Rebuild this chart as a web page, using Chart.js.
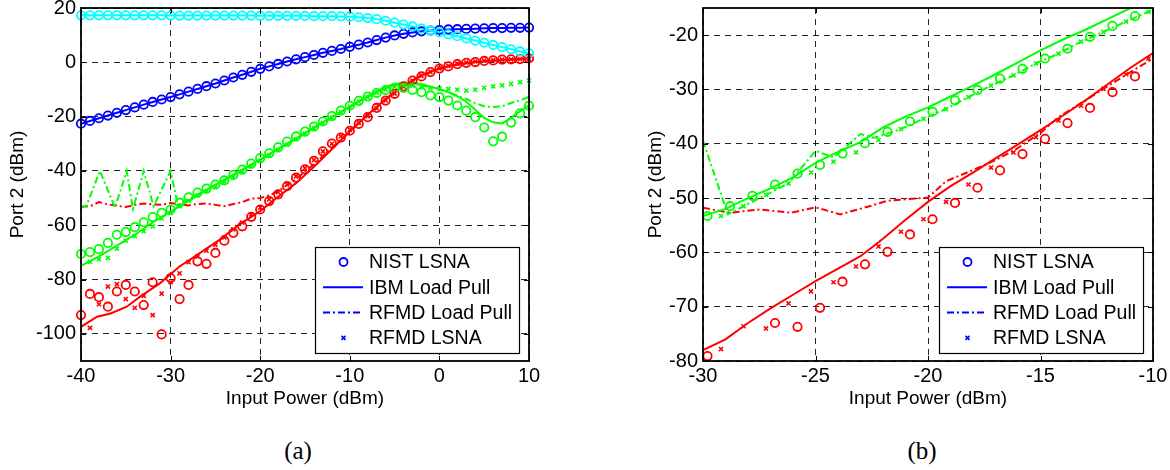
<!DOCTYPE html>
<html>
<head>
<meta charset="utf-8">
<script src="https://cdn.jsdelivr.net/npm/chart.js@4.4.1/dist/chart.umd.min.js"></script>
<style>
body { margin:0; background:#fff; width:1170px; height:470px; position:relative; overflow:hidden; }
#chartA { position:absolute; left:0; top:0; }
#chartB { position:absolute; left:590px; top:0; }
.cap { position:absolute; top:436px; width:60px; text-align:center; line-height:30px;
       font-size:25px; font-family:"Liberation Serif","Times New Roman",serif; color:#000; }
</style>
</head>
<body>
<canvas id="chartA" width="590" height="420"></canvas>
<canvas id="chartB" width="580" height="420"></canvas>
<div class="cap" style="left:268px">(a)</div>
<div class="cap" style="left:892px">(b)</div>
<script>
// ---- (a) data ----
const xTicksA = [-40, -30, -20, -10, 0, 10];
const yTicksA = [-100, -80, -60, -40, -20, 0, 20];
const pinA = [-40,-39,-38,-37,-36,-35,-34,-33,-32,-31,-30,-29,-28,-27,-26,-25,-24,-23,-22,-21,
  -20,-19,-18,-17,-16,-15,-14,-13,-12,-11,-10,-9,-8,-7,-6,-5,-4,-3,-2,-1,0,1,2,3,4,5,6,7,8,9,10];
const cyanA = [17.3,17.3,17.3,17.3,17.3,17.3,17.3,17.3,17.3,17.3,17.2,17.2,17.2,17.2,17.2,17.2,17.2,17.2,17.2,17.2,
  17.1,17.1,17.1,17.1,17.1,17.1,17.0,17.0,17.0,16.9,16.8,16.6,16.3,15.9,15.3,14.6,13.9,13.2,12.4,11.7,
  11.0,10.3,9.6,8.8,8.0,7.2,6.4,5.6,4.8,4.0,3.3];
const blueA = [-22.6,-21.6,-20.6,-19.6,-18.6,-17.6,-16.6,-15.6,-14.6,-13.7,-12.8,-11.8,-10.8,-9.8,-8.8,-7.8,-6.7,-5.6,-4.6,-3.5,
  -2.4,-1.5,-0.6,0.3,1.1,1.9,2.7,3.5,4.2,4.9,5.7,6.5,7.3,8.2,9.1,9.9,10.5,11.0,11.4,11.7,
  11.9,12.1,12.2,12.3,12.4,12.5,12.6,12.6,12.7,12.7,12.8];
const greenA = [-70.6,-69.9,-68.8,-66.5,-63.5,-62.5,-60.7,-58.9,-57,-55.4,-54.2,-51.7,-49.7,-48,-46.5,-45,-43.5,-41.5,-39.5,-37.3,
  -35.3,-33.5,-31.3,-29.2,-27.3,-25.5,-23.7,-21.8,-19.8,-17.8,-16,-14.2,-12.6,-11.3,-10.2,-9.4,-9.4,-10.2,-11,-12.2,
  -12.8,-14.1,-15.9,-17.8,-20.2,-24,-29.1,-27.4,-22.2,-18.8,-16];
const redA = [-93.1,-85.3,-86.5,-90,-84.4,-82,-84.4,-89.4,-81,-100.2,-79.5,-87.2,-82,-73.3,-74.2,-70.2,-65.7,-62.8,-60.4,-56.9,
  -54.2,-51.1,-48.6,-45.6,-42.5,-39.4,-36.3,-32.8,-29.9,-27.7,-25.2,-22.7,-20.2,-16.8,-14.1,-11.6,-8.9,-6.7,-5.2,-3.6,
  -2.3,-1.5,-0.7,-0.2,0.1,0.5,0.7,1.0,1.1,1.2,1.4];
const xsA = [-39,-38,-37,-36,-35,-34,-33,-32,-31,-30,-29,-28,-27,-26,-25,-24,-23,-22,-21,-20,
  -19,-18,-17,-16,-15,-14,-13,-12,-11,-10,-9,-8,-7,-6,-5,-4,-3,-2,-1,0,1,2,3,4,5,6,7,8,9,10];
const greenXA = [-73.5,-72.5,-72,-68.6,-65.7,-64,-62.2,-60.4,-57.5,-55.5,-53,-51,-49,-47.5,-46,-44,-42.3,-40.3,-38.3,-36.3,
  -34.3,-32.3,-30.3,-28.3,-26.3,-24.3,-22.3,-20.3,-18.3,-16.3,-14.5,-12.8,-11.2,-10,-9,-8.5,-8.6,-9,-9.4,-9.6,
  -9.8,-10.1,-10.4,-10.1,-9.4,-8.9,-8.5,-7.9,-7.3,-6.7];
const redXA = [-97.8,-89.1,-82.6,-81.7,-87.2,-90.4,-86,-93.1,-85.2,-81,-77.7,-73.6,-71.5,-69.4,-67.2,-64.5,-61.5,-59,-56,-53.5,
  -50.5,-47.8,-45,-42,-39,-36,-32.8,-30,-27.3,-24.8,-22.3,-19.8,-17,-14,-11.5,-9,-6.8,-5,-3.5,-2.2,
  -1.3,-0.6,-0.1,0.3,0.6,0.8,1,1.1,1.2,1.3];
const greenSolidAx = [-40,-38,-36,-34,-32,-30,-28,-26,-24,-22,-20,-18,-16,-14,-12,-10,-8,-6,-5,-4,-3,-2,-1,0,1,2,3,4,5,6,7,8,9,10];
const greenSolidAy = [-75,-71.5,-67.5,-63.5,-59,-55,-51,-47,-43.3,-39.5,-35.7,-31.8,-28,-24,-20.2,-16.3,-12.5,-9,-8,-7.5,-7.5,-8,-9,-9.8,-11,-12.5,-14.5,-17.5,-20.5,-22.1,-22.5,-20.5,-18,-15.9];
const greenDashAx = [-40,-39.4,-37.9,-36.2,-34.9,-34.2,-33,-31.9,-30,-29.2,-28,-26,-24,-22,-20,-18,-16,-14,-12,-10,-8,-6,-5,-3,-1,0,1,2,3,4,5,6,7,8,9,10];
const greenDashAy = [-53.5,-53,-40,-53.5,-40,-54,-40,-53,-40,-52.5,-50.5,-47,-43.5,-39.8,-36,-32,-28.2,-24.3,-20.4,-16.5,-12.7,-9.5,-8.5,-8.2,-9,-10,-11,-12.3,-13.5,-15,-16.2,-16.5,-16.2,-15,-14,-12.8];
const redSolidAx = [-40,-38.2,-36.7,-34.9,-33.4,-31.2,-29,-26.7,-24.5,-22.3,-20,-18,-16,-14,-12,-10,-8,-6,-4,-2,0,2,4,6,8,10];
const redSolidAy = [-97.4,-93.7,-92.5,-90,-86.3,-81.4,-75.2,-70.2,-65.3,-59.7,-54.8,-49.5,-44.5,-38.5,-32,-25.5,-19.3,-13.5,-8.5,-4.8,-2.2,-0.7,0.1,0.7,1.1,1.4];
const redDashAx = [-40,-39,-38,-37,-36,-35,-34,-33,-32,-31,-30,-29,-28,-27,-26,-25,-24,-23,-22,-21,-20,-19,-18,-16,-14,-12,-10,-8,-6,-4,-2,0,2,4,6,8,10];
const redDashAy = [-53.2,-53,-51.5,-52.3,-52.8,-53.3,-52.5,-52,-52.3,-52.5,-51.8,-52.3,-52.7,-52.2,-52,-52.5,-53,-52.2,-51.5,-50.2,-50,-49,-47.5,-43,-37.5,-31.5,-25.3,-19.3,-13.6,-8.6,-5,-2.5,-0.8,0,0.6,1,1.3];

// ---- (b) data ----
const xTicksB = [-30, -25, -20, -15, -10];
const yTicksB = [-80, -70, -60, -50, -40, -30, -20];
const pinB = [-29.8,-28.8,-27.8,-26.8,-25.8,-24.8,-23.8,-22.8,-21.8,-20.8,-19.8,-18.8,-17.8,-16.8,-15.8,-14.8,-13.8,-12.8,-11.8,-10.8];
const greenB = [-53.3,-51.5,-49.6,-47.5,-45.5,-43.9,-41.8,-39.9,-37.8,-35.9,-34.1,-32,-30.1,-28,-26.2,-24.3,-22.5,-20.3,-18.3,-16.5];
const redB = [-79.1,null,null,-73,-73.7,-70.2,-65.4,-62.2,-59.9,-56.7,-53.9,-50.9,-48.1,-44.9,-41.9,-39.1,-36.2,-33.4,-30.5,-27.6];
const xsB = [-29.2,-28.2,-27.2,-26.2,-25.2,-24.2,-23.2,-22.2,-21.2,-20.2,-19.2,-18.2,-17.2,-16.2,-15.2,-14.2,-13.2,-12.2,-11.2,-10.2];
const greenXB = [-53.3,-51.5,-49.4,-47.3,-45.3,-43.3,-41.6,-39.3,-37.3,-35.4,-33.6,-31.4,-29.3,-27.4,-25.2,-23.4,-21.2,-19.4,-17.5,-15.7];
const redXB = [-77.8,-73.6,-74,-69.4,-67.2,-65.5,-62.6,-58.9,-56.2,-53.9,-50.7,-47.5,-44.4,-41.6,-38.8,-35.7,-33,-29.9,-27.2,-24.3];
const pinLineB = [-30,-29,-28,-27,-26,-25,-24,-23,-22,-21,-20,-19,-18,-17,-16,-15,-14,-13,-12,-11,-10];
const greenSolidB = [-53.3,-52,-50,-48.2,-46.2,-43.5,-41.5,-39.7,-37,-35,-33.3,-31.3,-29.3,-27.2,-25,-22.8,-20.8,-19,-17,-15,-13];
const redSolidB = [-78,-76,-73,-70.3,-67.8,-65.3,-63,-60.7,-57.5,-54,-50.7,-47.8,-45.3,-42.7,-40.1,-37.5,-34.8,-32,-29,-26,-23.3];
const greenDashBx = [-30,-28.9,-28.2,-27.2,-26.2,-25,-24.2,-23,-22.4,-21.2,-20.2,-19.2,-18.2,-17.2,-16.2,-15.2,-14.2,-13.2,-12.2,-11.2,-10.2,-10];
const greenDashBy = [-39.4,-53,-51.5,-49.4,-47.3,-41.3,-42.5,-38.2,-38.9,-37.3,-35.4,-33.6,-31.4,-29.3,-27.4,-25.2,-23.4,-21.2,-19.4,-17.5,-15.7,-15.2];
const redDashBx = [-30,-28.8,-27.5,-26.1,-25,-23.9,-22.6,-21.8,-20,-19.2,-18.1,-17,-16.2,-15,-14.2,-13,-12.1,-11,-10];
const redDashBy = [-51.8,-52.7,-52.1,-52.7,-51.7,-53,-51.5,-50.5,-49.9,-46.9,-45,-43,-41.3,-38,-35.1,-32,-29.6,-26.8,-24.3];

const legendLabels = ['NIST LSNA', 'IBM Load Pull', 'RFMD Load Pull', 'RFMD LSNA'];

const CYAN = '#00ffff', BLUE = '#0000ff', GREEN = '#00ff00', RED = '#ff0000';
const DASHDOT = [7, 3, 2, 3];
const FONT = '"Liberation Sans", Arial, sans-serif';

Chart.defaults.font.family = FONT;
Chart.defaults.font.size = 20;
Chart.defaults.color = '#000';

const pts = (xs, ys) => xs.map((x, i) => ({x: x, y: ys[i]}));

function line(xs, ys, color, dash) {
  return { data: pts(xs, ys), showLine: true, borderColor: color, borderWidth: 2,
           borderDash: dash || [], pointRadius: 0, fill: false };
}
function circles(xs, ys, color) {
  return { data: pts(xs, ys), showLine: false, borderColor: color, backgroundColor: 'rgba(0,0,0,0)',
           pointStyle: 'circle', pointRadius: 4.2, borderWidth: 1.8, clip: false };
}
function crosses(xs, ys, color) {
  return { data: pts(xs, ys), showLine: false, borderColor: color, pointStyle: 'crossRot',
           pointRadius: 2.9, borderWidth: 1.6, clip: false };
}

// axes box, inward ticks and the legend
const framePlugin = {
  id: 'frame',
  afterDraw(chart) {
    const ctx = chart.ctx, a = chart.chartArea;
    ctx.save();
    ctx.strokeStyle = '#000';
    ctx.lineWidth = 1;
    ctx.beginPath();
    chart.scales.x.ticks.forEach(t => {
      const px = Math.round(chart.scales.x.getPixelForValue(t.value)) + 0.5;
      ctx.moveTo(px, a.bottom); ctx.lineTo(px, a.bottom - 5);
      ctx.moveTo(px, a.top); ctx.lineTo(px, a.top + 5);
    });
    chart.scales.y.ticks.forEach(t => {
      const py = Math.round(chart.scales.y.getPixelForValue(t.value)) + 0.5;
      ctx.moveTo(a.left, py); ctx.lineTo(a.left + 5, py);
      ctx.moveTo(a.right, py); ctx.lineTo(a.right - 5, py);
    });
    ctx.stroke();
    ctx.lineWidth = 1.8;
    ctx.strokeRect(a.left, a.top, a.right - a.left, a.bottom - a.top);

    // legend
    const w = 204, h = 106;
    const L = Math.round(a.right - 10 - w), T = Math.round(a.bottom - 8 - h);
    ctx.fillStyle = '#fff';
    ctx.fillRect(L, T, w, h);
    ctx.lineWidth = 1.2;
    ctx.strokeRect(L + 0.5, T + 0.5, w, h);
    ctx.font = '19.5px ' + FONT;
    ctx.textBaseline = 'middle';
    ctx.textAlign = 'left';
    legendLabels.forEach((txt, i) => {
      const y = T + 15 + i * 25.3;
      ctx.strokeStyle = BLUE;
      if (i === 0) {
        ctx.lineWidth = 1.8;
        ctx.beginPath(); ctx.arc(L + 28.5, y, 4, 0, Math.PI * 2); ctx.stroke();
      } else if (i === 3) {
        ctx.lineWidth = 1.6;
        ctx.beginPath();
        ctx.moveTo(L + 26.5, y - 2); ctx.lineTo(L + 30.5, y + 2);
        ctx.moveTo(L + 26.5, y + 2); ctx.lineTo(L + 30.5, y - 2);
        ctx.stroke();
      } else {
        ctx.lineWidth = 2;
        ctx.setLineDash(i === 2 ? DASHDOT : []);
        ctx.beginPath(); ctx.moveTo(L + 8, y); ctx.lineTo(L + 48, y); ctx.stroke();
        ctx.setLineDash([]);
      }
      ctx.fillStyle = '#000';
      ctx.fillText(txt, L + 54, y + 1);
    });
    ctx.restore();
  }
};

function makeAxes(xMin, xMax, xTicks, yMin, yMax, yTicks, yWidth) {
  const grid = { color: 'rgba(0,0,0,0.85)', lineWidth: 1, drawTicks: false };
  const border = { display: false, dash: [6, 5] };
  return {
    x: {
      type: 'linear', min: xMin, max: xMax, grid: grid, border: border,
      ticks: { padding: 3, maxRotation: 0 },
      afterBuildTicks: s => { s.ticks = xTicks.map(v => ({value: v})); },
      afterFit: s => { s.height = 59; s.paddingLeft = 0; s.paddingRight = 0; },
      title: { display: true, text: 'Input Power (dBm)', padding: {top: 0, bottom: 10}, font: {size: 19} }
    },
    y: {
      type: 'linear', min: yMin, max: yMax, grid: grid, border: border,
      ticks: { padding: 5 },
      afterBuildTicks: s => { s.ticks = yTicks.map(v => ({value: v})); },
      afterFit: s => { s.width = yWidth; s.paddingTop = 0; s.paddingBottom = 0; },
      title: { display: true, text: 'Port 2 (dBm)', padding: {top: 6, bottom: 0}, font: {size: 19} }
    }
  };
}

const commonPlugins = { legend: { display: false }, tooltip: { enabled: false } };

new Chart(document.getElementById('chartA'), {
  type: 'scatter',
  data: {
    datasets: [
      crosses(xsA, greenXA, GREEN),
      crosses(xsA, redXA, RED),
      circles(pinA, cyanA, CYAN),
      circles(pinA, blueA, BLUE),
      circles(pinA, greenA, GREEN),
      circles(pinA, redA, RED),
      line(pinA, cyanA, CYAN),
      line(pinA, blueA, BLUE),
      line(greenSolidAx, greenSolidAy, GREEN),
      line(greenDashAx, greenDashAy, GREEN, DASHDOT),
      line(redSolidAx, redSolidAy, RED),
      line(redDashAx, redDashAy, RED, DASHDOT)
    ]
  },
  options: {
    responsive: false, animation: false,
    layout: { padding: { left: 0, right: 61, top: 8, bottom: 0 } },
    scales: makeAxes(-40, 10, xTicksA, -110, 20, yTicksA, 81),
    plugins: commonPlugins
  },
  plugins: [framePlugin]
});

new Chart(document.getElementById('chartB'), {
  type: 'scatter',
  data: {
    datasets: [
      crosses(xsB, greenXB, GREEN),
      crosses(xsB, redXB, RED),
      circles(pinB, greenB, GREEN),
      circles(pinB, redB, RED),
      line(pinLineB, greenSolidB, GREEN),
      line(greenDashBx, greenDashBy, GREEN, DASHDOT),
      line(pinLineB, redSolidB, RED),
      line(redDashBx, redDashBy, RED, DASHDOT)
    ]
  },
  options: {
    responsive: false, animation: false,
    layout: { padding: { left: 48, right: 17, top: 8, bottom: 0 } },
    scales: makeAxes(-30, -10, xTicksB, -80, -15, yTicksB, 65),
    plugins: commonPlugins
  },
  plugins: [framePlugin]
});
</script>
</body>
</html>
